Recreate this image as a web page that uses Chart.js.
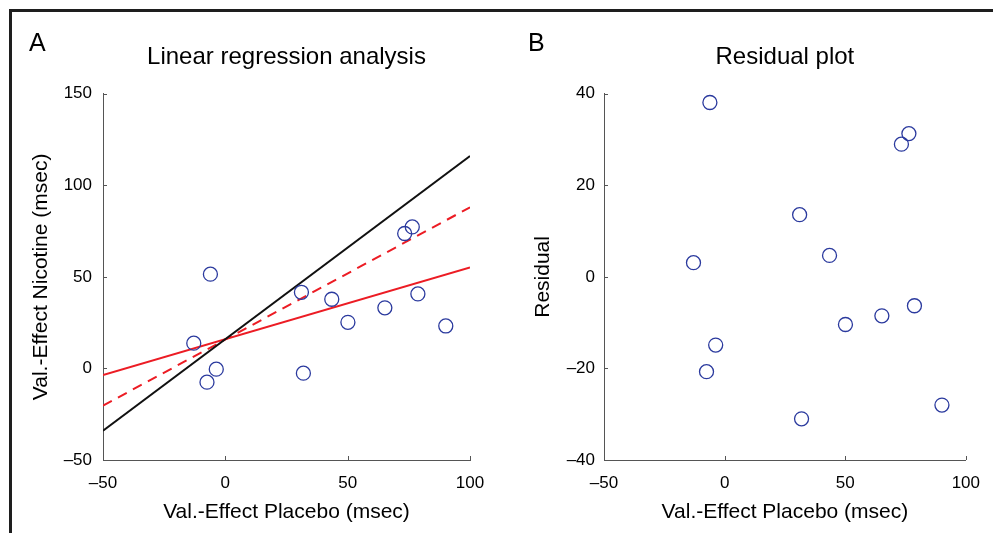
<!DOCTYPE html>
<html>
<head>
<meta charset="utf-8">
<script src="https://cdn.jsdelivr.net/npm/chart.js@4.4.1/dist/chart.umd.min.js"></script>
<style>
  body { margin: 0; background: #fff; }
  #wrap { position: relative; width: 993px; height: 533px; overflow: hidden; background: #fff; }
  #frame { position: absolute; left: 9px; top: 9px; right: -5px; bottom: -5px;
           border-top: 3px solid #1e1e1e; border-left: 3px solid #1e1e1e; }
  canvas { position: absolute; top: 0; }
  .letter { position: absolute; font-family: "Liberation Sans", Arial, sans-serif;
            font-size: 25px; line-height: 1; color: #000; }
</style>
</head>
<body>
<div id="wrap">
  <div id="frame"></div>
  <canvas id="chartA" width="500" height="533" style="left:0"></canvas>
  <canvas id="chartB" width="493" height="533" style="left:500px"></canvas>
  <div class="letter" style="left:29px; top:30px">A</div>
  <div class="letter" style="left:528px; top:30px">B</div>
</div>
<script>
  // values
  const placeboEffect = [-12.9, -6.1, -7.5, -3.7, 31.1, 31.9, 43.5, 50.1, 65.2, 73.3, 76.4, 78.7, 90.1];
  const nicotineEffect = [13.8, 51.5, -7.5, -0.4, 41.6, -2.6, 37.8, 25.2, 33.1, 73.7, 77.3, 40.7, 23.2];
  const residuals = [3.1, 38.1, -20.7, -14.9, 13.6, -31.0, 4.7, -10.4, -8.5, 29.0, 31.3, -6.3, -28.0];

  const lineEnds = [-50, 100];
  const identityLine = [-34, 116];
  const fitLine = [-3.6, 55.1];
  const dashedLine = [-20.3, 88];

  const xTicks = [-50, 0, 50, 100];
  const yTicksA = [-50, 0, 50, 100, 150];
  const yTicksB = [-40, -20, 0, 20, 40];

  Chart.defaults.font.family = '"Liberation Sans", Arial, sans-serif';
  Chart.defaults.color = "#000";

  const AXIS_COLOR = "#555";
  const POINT_COLOR = "#2b3a9e";

  function fmt(v) {
    return v < 0 ? "\u2013" + Math.abs(v) : String(v);
  }

  function toPoints(xs, ys) {
    return xs.map((x, i) => ({ x: x, y: ys[i] }));
  }

  // matlab style ticks pointing into the plot
  const innerTicks = {
    id: "innerTicks",
    afterDraw(chart) {
      const ctx = chart.ctx;
      const area = chart.chartArea;
      const xs = chart.scales.x;
      const ys = chart.scales.y;
      ctx.save();
      ctx.strokeStyle = AXIS_COLOR;
      ctx.lineWidth = 1;
      ctx.beginPath();
      xs.ticks.forEach((t) => {
        const px = Math.round(xs.getPixelForValue(t.value)) + 0.5;
        ctx.moveTo(px, area.bottom);
        ctx.lineTo(px, area.bottom - 4);
      });
      ys.ticks.forEach((t) => {
        const py = Math.round(ys.getPixelForValue(t.value)) + 0.5;
        ctx.moveTo(area.left, py);
        ctx.lineTo(area.left + 4, py);
      });
      ctx.stroke();
      ctx.restore();
    },
  };

  function makeOptions(title, yTitle, yMin, yMax, yStep, yWidth, yPad, yTitlePad, rightPad) {
    return {
      responsive: false,
      animation: false,
      layout: { padding: { left: 0, right: rightPad, top: 0, bottom: 0 } },
      plugins: {
        legend: { display: false },
        tooltip: { enabled: false },
        title: {
          display: true,
          text: title,
          fullSize: false,
          font: { size: 24, weight: "normal" },
          padding: { top: 43, bottom: 22 },
          color: "#000",
        },
      },
      scales: {
        x: {
          type: "linear",
          min: -50,
          max: 100,
          afterBuildTicks: (scale) => {
            scale.ticks = xTicks.map((v) => ({ value: v }));
          },
          afterFit: (scale) => {
            scale.height = 73;
          },
          grid: { display: false, drawTicks: false },
          border: { display: true, color: AXIS_COLOR, width: 1 },
          ticks: { padding: 13, font: { size: 17 }, maxRotation: 0, callback: fmt },
          title: {
            display: true,
            text: "Val.-Effect Placebo (msec)",
            font: { size: 21 },
            padding: { top: 0, bottom: 8 },
          },
        },
        y: {
          type: "linear",
          min: yMin,
          max: yMax,
          afterBuildTicks: (scale) => {
            scale.ticks = (yStep).map((v) => ({ value: v }));
          },
          afterFit: (scale) => {
            scale.width = yWidth;
          },
          grid: { display: false, drawTicks: false },
          border: { display: true, color: AXIS_COLOR, width: 1 },
          ticks: { padding: yPad, font: { size: 17 }, callback: fmt },
          title: {
            display: true,
            text: yTitle,
            font: { size: 21 },
            padding: { top: yTitlePad, bottom: 0 },
          },
        },
      },
    };
  }

  const pointStyle = {
    pointStyle: "circle",
    pointRadius: 7,
    pointBorderWidth: 1.3,
    pointBorderColor: POINT_COLOR,
    pointBackgroundColor: "rgba(0,0,0,0)",
    showLine: false,
  };

  new Chart(document.getElementById("chartA"), {
    type: "scatter",
    data: {
      datasets: [
        Object.assign({ label: "Subjects", data: toPoints(placeboEffect, nicotineEffect) }, pointStyle),
        {
          type: "line",
          label: "Identity",
          data: toPoints(lineEnds, identityLine),
          borderColor: "#111",
          borderWidth: 2,
          pointRadius: 0,
        },
        {
          type: "line",
          label: "Regression",
          data: toPoints(lineEnds, fitLine),
          borderColor: "#ec1c24",
          borderWidth: 2,
          pointRadius: 0,
        },
        {
          type: "line",
          label: "Dashed",
          data: toPoints(lineEnds, dashedLine),
          borderColor: "#ec1c24",
          borderWidth: 2,
          borderDash: [10, 7],
          pointRadius: 0,
        },
      ],
    },
    options: makeOptions("Linear regression analysis", "Val.-Effect Nicotine (msec)", -50, 150, yTicksA, 103, 11, 29, 30),
    plugins: [innerTicks],
  });

  new Chart(document.getElementById("chartB"), {
    type: "scatter",
    data: {
      datasets: [
        Object.assign({ label: "Residual", data: toPoints(placeboEffect, residuals) }, pointStyle),
      ],
    },
    options: makeOptions("Residual plot", "Residual", -40, 40, yTicksB, 104, 9, 31, 23),
    plugins: [innerTicks],
  });
</script>
</body>
</html>
